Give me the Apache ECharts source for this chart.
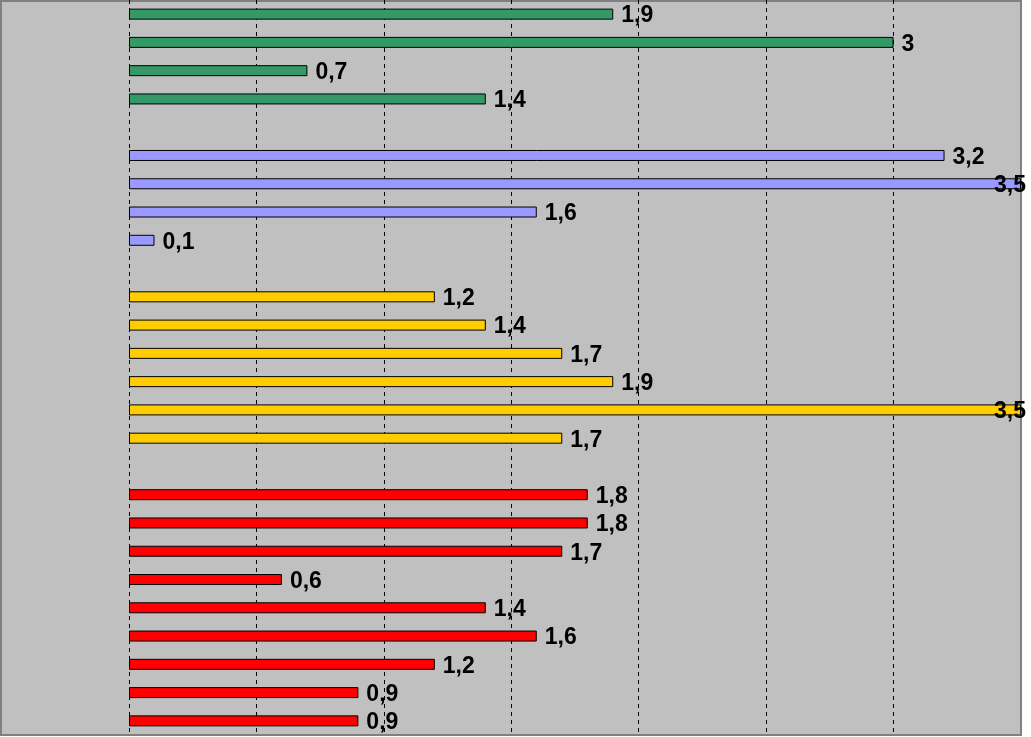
<!DOCTYPE html>
<html><head><meta charset="utf-8">
<script src="https://cdn.jsdelivr.net/npm/echarts@6/dist/echarts.min.js"></script>
<style>html,body{margin:0;padding:0;background:#fff}#c{width:1031px;height:737px}</style>
</head><body><div id="c"></div>
<script>
// Groups top to bottom (gap rows between groups)
const greenValues = [1.9, 3, 0.7, 1.4];
const blueValues = [3.2, 3.5, 1.6, 0.1];
const yellowValues = [1.2, 1.4, 1.7, 1.9, 3.5, 1.7];
const redValues = [1.8, 1.8, 1.7, 0.6, 1.4, 1.6, 1.2, 0.9, 0.9];
const groupColors = ['#339966', '#9999FF', '#FFCC00', '#FF0000'];
const axisMax = 3.5;
const axisInterval = 0.5;

const groups = [greenValues, blueValues, yellowValues, redValues];
const categories = [];
const seriesData = groups.map(() => []);
groups.forEach((g, gi) => {
  if (gi > 0) {
    categories.push('gap' + gi);
    seriesData.forEach(d => d.push('-'));
  }
  g.forEach((v, i) => {
    categories.push('g' + gi + '_' + i);
    seriesData.forEach((d, di) => {
      if (di === gi) {
        const item = { value: v };
        if (v >= axisMax) {
          item.label = { position: 'insideRight', offset: [13, 2] };
        }
        d.push(item);
      } else d.push('-');
    });
  });
});

const chart = echarts.init(document.getElementById('c'), null, { renderer: 'canvas' });
chart.setOption({
  backgroundColor: '#ffffff',
  animation: false,
  graphic: [{
    type: 'rect', z: -10, silent: true,
    shape: { x: 1, y: 1, width: 1020, height: 734 },
    style: { fill: '#C0C0C0', stroke: '#808080', lineWidth: 2 }
  }],
  grid: { left: 129, right: 10, top: 0, bottom: 2, containLabel: false },
  xAxis: {
    type: 'value', min: 0, max: axisMax, interval: axisInterval,
    axisLine: { show: false }, axisTick: { show: false }, axisLabel: { show: false },
    splitLine: { show: true, showMinLine: true, showMaxLine: false,
      lineStyle: { color: '#000', type: [4, 4], width: 1 } }
  },
  yAxis: {
    type: 'category', data: categories, inverse: true,
    axisLine: { show: false }, axisTick: { show: false }, axisLabel: { show: false },
    splitLine: { show: false }
  },
  series: seriesData.map((d, i) => ({
    type: 'bar', stack: 'all', data: d, barWidth: 11,
    itemStyle: { color: groupColors[i], borderColor: '#000', borderWidth: 1 },
    label: {
      show: true, position: 'right', distance: 8, offset: [0, 2],
      fontFamily: 'Liberation Sans, Arial, sans-serif', fontWeight: 'bold', fontSize: 23,
      color: '#000',
      formatter: p => String(p.value).replace('.', ',')
    }
  }))
});
</script></body></html>
